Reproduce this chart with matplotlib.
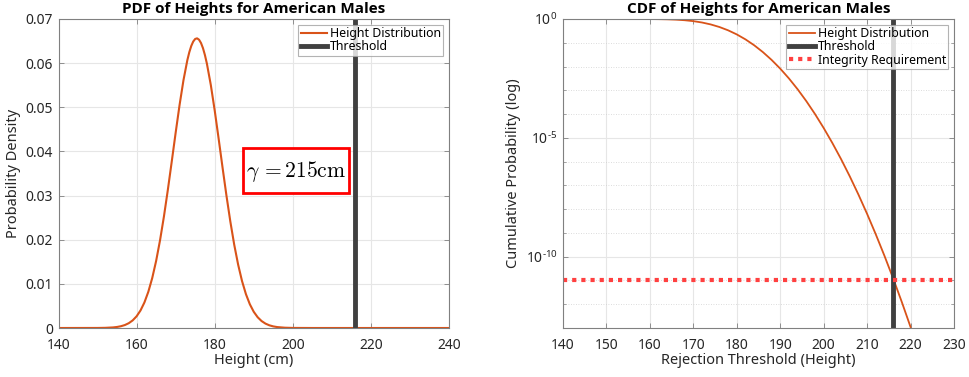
import math
import matplotlib
matplotlib.use("Agg")
import matplotlib.pyplot as plt
from matplotlib.ticker import FuncFormatter, LogLocator, NullFormatter, FixedLocator
from matplotlib.patches import Rectangle

plt.rcParams['font.family'] = ['Noto Sans', 'DejaVu Sans']
plt.rcParams['mathtext.fontset'] = 'custom'
plt.rcParams['mathtext.rm'] = 'Noto Sans'
plt.rcParams['mathtext.it'] = 'Noto Sans:italic'
plt.rcParams['mathtext.bf'] = 'Noto Sans:bold'

# ---- data ----
pdf_height = [140, 150, 152, 154, 155, 156, 157, 158, 159, 160, 161, 162, 163, 164, 165,
              166, 167, 168, 169, 170, 171, 172, 173, 173.5, 174, 174.5, 175, 175.5, 176,
              176.5, 177, 177.5, 178, 179, 180,
              181, 182, 183, 184, 185, 186, 187, 188, 189, 190, 191, 192, 193, 194, 195,
              196, 198, 200, 205, 240]
pdf_density = [0.0, 1.07e-5, 3.98e-5, 1.34e-4, 2.36e-4, 4.04e-4, 6.74e-4, 1.093e-3, 1.726e-3,
               2.654e-3, 3.971e-3, 5.783e-3, 8.196e-3, 0.01131, 0.01519, 0.01986, 0.02527,
               0.03129, 0.03771, 0.04423, 0.05050, 0.05612, 0.06070, 0.06249, 0.06390,
               0.06490, 0.06548, 0.06562, 0.06530, 0.06455, 0.06339, 0.06182, 0.05989,
               0.05507, 0.04929, 0.04294, 0.03641, 0.03005,
               0.02414, 0.01887, 0.01436, 0.01063, 7.664e-3, 5.376e-3, 3.672e-3, 2.441e-3,
               1.579e-3, 9.94e-4, 6.09e-4, 3.64e-4, 2.11e-4, 6.6e-5, 1.8e-5, 0.0, 0.0]

cdf_threshold = [140, 150, 155, 158, 160, 162, 164, 166, 168, 170, 172, 174, 176, 178, 180,
                 182, 184, 186, 188, 190, 192, 194, 196, 198, 200, 202, 204, 206, 208, 210,
                 212, 214, 216, 218, 220]
cdf_prob = [1.0, 0.99999, 0.9996, 0.9979, 0.9943, 0.9862, 0.9696, 0.9389, 0.8882, 0.8127,
            0.7119, 0.5910, 0.4607, 0.3345, 0.2246, 0.1389, 0.0786, 0.04063, 0.01911,
            0.00817, 0.003164, 0.001110, 3.52e-4, 1.007e-4, 2.60e-5, 6.07e-6, 1.28e-6,
            2.42e-7, 4.12e-8, 6.31e-9, 8.7e-10, 1.08e-10, 1.21e-11, 1.22e-12, 1.10e-13]

threshold = 216
integrity_req = 1e-11
gamma_label = r'$\gamma\,=215\mathrm{cm}$'

pdf_xticks = [140, 160, 180, 200, 220, 240]
pdf_yticks = [0, 0.01, 0.02, 0.03, 0.04, 0.05, 0.06, 0.07]
cdf_xticks = [140, 150, 160, 170, 180, 190, 200, 210, 220, 230]
cdf_yticks = [1e0, 1e-5, 1e-10]

# ---- style ----
ORANGE = '#D95319'
DARK = '#404040'
RED = '#FF4040'
AXC = '#262626'
GRIDC = '#e6e6e6'

fig = plt.figure(figsize=(9.69, 3.77), dpi=100)
ax1 = fig.add_axes([58.5 / 969, 49 / 377, 390.5 / 969, 309 / 377])
ax2 = fig.add_axes([563 / 969, 49 / 377, 391 / 969, 309 / 377])


def style(ax):
    for s in ax.spines.values():
        s.set_color('#808080')
        s.set_linewidth(0.8)
    ax.tick_params(direction='in', top=True, right=True, length=3.5, width=0.6,
                   colors='#808080', labelcolor=AXC, labelsize=10)
    ax.tick_params(axis='x', pad=7)
    ax.tick_params(axis='y', pad=4)
    ax.tick_params(which='minor', direction='in', top=True, right=True, length=2,
                   width=0.5, colors='#808080')
    ax.set_axisbelow(True)


def legend(ax):
    leg = ax.legend(loc='upper right', fontsize=8.9, frameon=True, fancybox=False,
                    edgecolor='#a0a0a0', borderpad=0.2, handlelength=2.1, handletextpad=0.25,
                    labelspacing=0.02, borderaxespad=0.45)
    leg.get_frame().set_linewidth(0.8)
    return leg


TITLE_FONT = dict(fontsize=11, fontweight='bold', color='black',
                  family=['Open Sans', 'Noto Sans', 'DejaVu Sans'])

# ---- left: PDF ----
style(ax1)
ax1.grid(True, color=GRIDC, linewidth=0.8)
ax1.plot(pdf_height, pdf_density, color=ORANGE, linewidth=1.5, label='Height Distribution')
ax1.axvline(threshold, color=DARK, linewidth=3.5, label='Threshold')
ax1.set_xlim(140, 240)
ax1.set_ylim(0, 0.07)
ax1.set_xticks(pdf_xticks)
ax1.set_yticks(pdf_yticks)
ax1.yaxis.set_major_formatter(FuncFormatter(lambda v, p: '%g' % round(v, 3)))
ax1.set_xlabel('Height (cm)', fontsize=10.5, color=AXC, labelpad=0)
ax1.set_ylabel('Probability Density', fontsize=10.5, color=AXC, labelpad=3)
ax1.set_title('PDF of Heights for American Males', pad=4, **TITLE_FONT)
legend(ax1)

# annotation box
ax1.add_patch(Rectangle((0.473, 0.438), 0.272, 0.143, transform=ax1.transAxes,
                        fill=True, facecolor='white', edgecolor='#FF0000', linewidth=2,
                        zorder=5))
ax1.text(0.609, 0.505, gamma_label, transform=ax1.transAxes, ha='center', va='center',
         fontsize=15.5, math_fontfamily='cm', color='black', zorder=6)

# ---- right: CDF ----
style(ax2)
ax2.semilogy(cdf_threshold, cdf_prob, color=ORANGE, linewidth=1.3, label='Height Distribution')
ax2.axvline(threshold, color=DARK, linewidth=3.5, label='Threshold')
ax2.axhline(integrity_req, color=RED, linewidth=3.0, linestyle=(0, (1, 1.2)),
            label='Integrity Requirement')
ax2.set_xlim(140, 230)
ax2.set_ylim(1e-13, 1)
ax2.set_xticks(cdf_xticks)
ax2.yaxis.set_major_locator(FixedLocator(cdf_yticks))
ax2.yaxis.set_minor_locator(LogLocator(base=10, subs=(1.0,), numticks=30))
ax2.yaxis.set_minor_formatter(NullFormatter())


def log_label(v, p):
    e = int(round(math.log10(v)))
    s = str(e).replace('-', '\u2010')
    return r'$\mathdefault{10^{%s}}$' % s


ax2.yaxis.set_major_formatter(FuncFormatter(log_label))
ax2.grid(True, which='major', color=GRIDC, linewidth=0.8)
ax2.grid(True, which='minor', axis='y', color='#d0d0d0', linewidth=0.6, linestyle=(0, (1, 2)))
ax2.set_xlabel('Rejection Threshold (Height)', fontsize=10.5, color=AXC, labelpad=0)
ax2.set_ylabel('Cumulative Probability (log)', fontsize=10.5, color=AXC, labelpad=3)
ax2.set_title('CDF of Heights for American Males', pad=4, **TITLE_FONT)
legend(ax2)

fig.savefig('out.png', dpi=100)
